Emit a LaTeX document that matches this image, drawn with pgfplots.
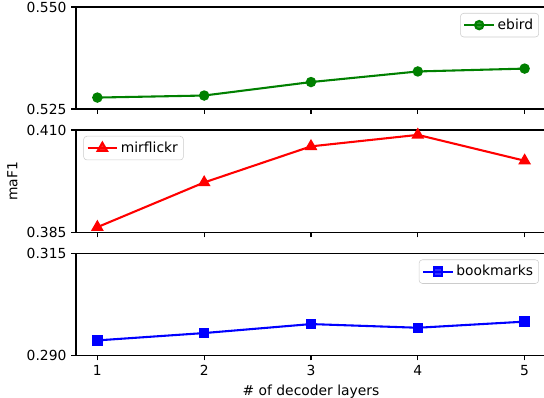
\documentclass[border=0pt]{standalone}
\usepackage{fontspec}
\setmainfont{DejaVu Sans}
\usepackage{pgfplots}
\pgfplotsset{compat=1.18}
\definecolor{mgreen}{rgb}{0,0.5,0}
\newcommand{\fs}{\fontsize{10.4}{12.5}\selectfont}
\pgfplotsset{
  common/.style={
    scale only axis, width=352.5pt,
    xmin=0.8, xmax=5.2, xtick={1,2,3,4,5},
    axis x line*=box, axis y line*=left,
    tick pos=left, tick align=outside, major tick length=3.65pt,
    every tick/.style={black, line width=0.83pt},
    axis line style={line width=0.83pt, black},
    yticklabel style={/pgf/number format/.cd, fixed, fixed zerofill, precision=3},
    scaled y ticks=false,
    tick label style={font=\fs},
    label style={font=\fs},
    /pgf/number format/assume math mode=true,
    legend style={font=\fs, draw=black!20, rounded corners=2.5pt, fill=white, fill opacity=0.8, text opacity=1, draw opacity=1, inner sep=2.2pt, row sep=0pt, cells={anchor=west}},
    legend image code/.code={\draw[mark repeat=2,mark phase=2] plot coordinates {(0cm,0cm)(0.39cm,0cm)(0.78cm,0cm)};},
    every axis plot/.append style={line width=1.56pt, mark options={solid}},
  }
}
\begin{document}
\begin{tikzpicture}
\begin{axis}[common, name=top, at={(57pt,-81.75pt)}, anchor=south west, height=76.5pt,
  ymin=0.525, ymax=0.550, ytick={0.525,0.550}, xticklabels={},
  legend style={at={(1,1)}, anchor=north east, xshift=-5.25pt, yshift=-4.5pt}]
\addplot[color=mgreen, mark=*, mark size=3.1pt] coordinates {(1,0.5278)(2,0.5283)(3,0.5316)(4,0.5342)(5,0.5349)};
\addlegendentry{ebird}
\end{axis}
\begin{axis}[common, name=mid, at={(57pt,-174.375pt)}, anchor=south west, height=76.9pt,
  ymin=0.385, ymax=0.410, ytick={0.385,0.410}, xticklabels={},
  ylabel={maF1},
  legend style={at={(0,1)}, anchor=north west, xshift=5.5pt, yshift=-4.5pt}]
\addplot[color=red, mark=triangle*, mark size=4pt] coordinates {(1,0.3863)(2,0.3972)(3,0.4060)(4,0.4088)(5,0.4025)};
\addlegendentry{mirflickr}
\end{axis}
\begin{axis}[common, name=bot, at={(57pt,-266.625pt)}, anchor=south west, height=76.5pt,
  ymin=0.290, ymax=0.315, ytick={0.290,0.315},
  xlabel={\# of decoder layers},
  legend style={at={(1,1)}, anchor=north east, xshift=-5.25pt, yshift=-4.5pt}]
\addplot[color=blue, mark=square*, mark size=3.1pt] coordinates {(1,0.2937)(2,0.2955)(3,0.2977)(4,0.2968)(5,0.2983)};
\addlegendentry{bookmarks}
\end{axis}
\pgfresetboundingbox
\path[use as bounding box] (0pt,0pt) rectangle (408pt,-298.5pt);
\end{tikzpicture}
\end{document}
